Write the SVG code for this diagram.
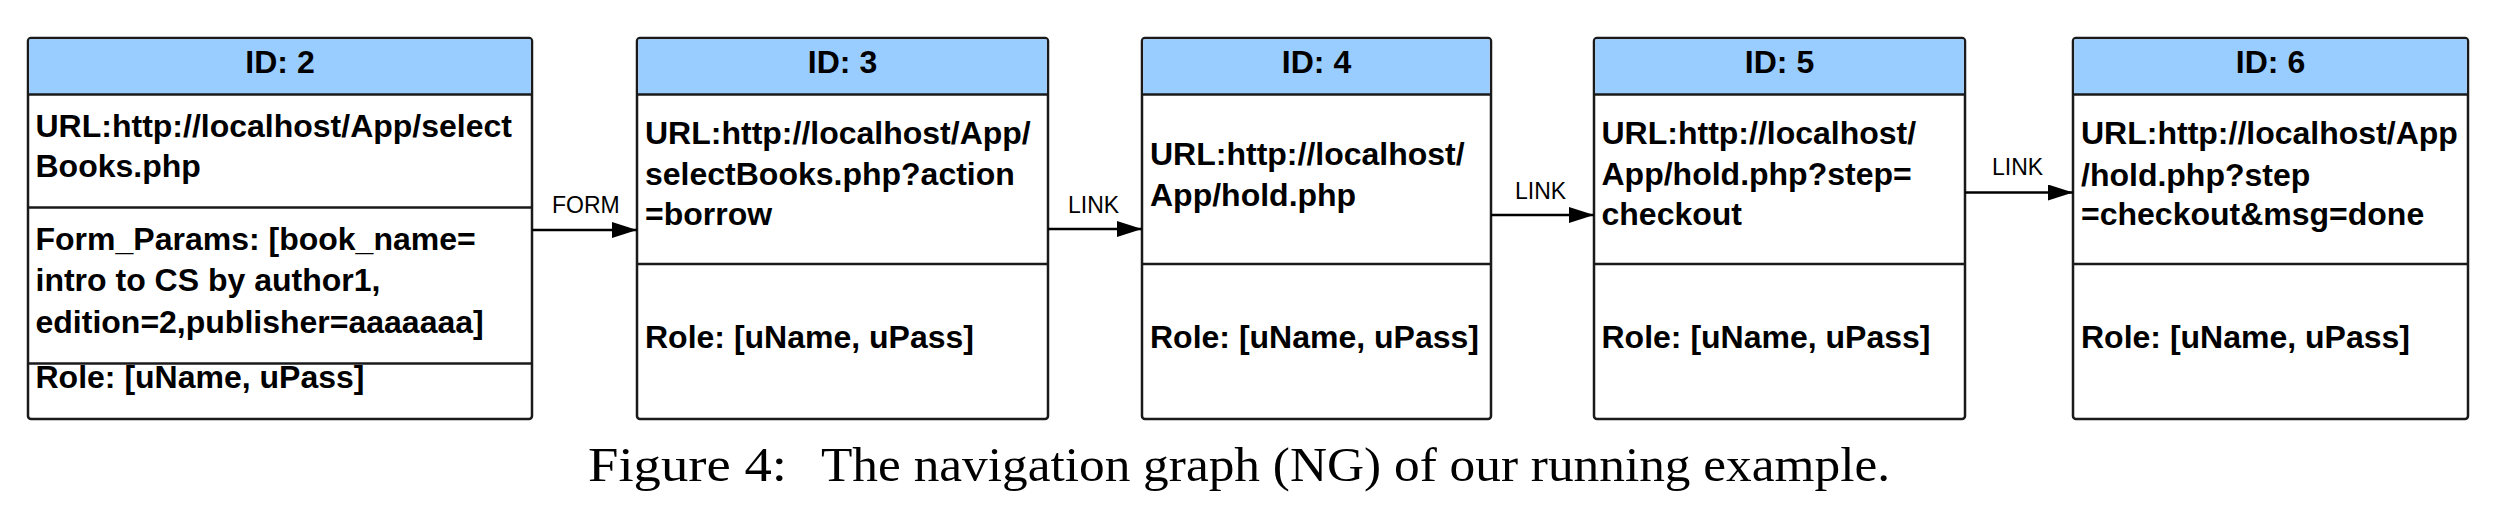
<svg xmlns="http://www.w3.org/2000/svg" width="2500" height="510" viewBox="0 0 2500 510">
<style>
.box{fill:#ffffff;stroke:#1a1a1a;stroke-width:2.5}
.hdr{fill:#99ccff;stroke:none}
.div{stroke:#1a1a1a;stroke-width:2.5}
.t{font-family:"Liberation Sans",Arial,sans-serif;font-weight:bold;font-size:32px;fill:#000}
.h{font-family:"Liberation Sans",Arial,sans-serif;font-weight:bold;font-size:32px;fill:#000;text-anchor:middle}
.lbl{font-family:"Liberation Sans",Arial,sans-serif;font-size:23px;fill:#000}
.edge{stroke:#000;stroke-width:2.5;fill:none}
.cap{font-family:"Liberation Serif","Times New Roman",serif;font-size:49px;fill:#000}
</style>
<defs>
<marker id="arr" markerUnits="userSpaceOnUse" markerWidth="26" markerHeight="18" refX="25" refY="8" orient="auto">
<path d="M0,0 L25,8 L0,16 Z" fill="#000"/>
</marker>
</defs>

<g id="node2">
<rect class="box" x="28" y="38" width="504" height="381" rx="3"/>
<rect class="hdr" x="29.25" y="39.25" width="501.5" height="55"/>
<line class="div" x1="28" y1="94.5" x2="532" y2="94.5"/>
<line class="div" x1="28" y1="207.5" x2="532" y2="207.5"/>
<line class="div" x1="28" y1="363.5" x2="532" y2="363.5"/>
<text class="h" x="280" y="73">ID: 2</text>
<text class="t" x="35.5" y="137">URL:http://localhost/App/select</text>
<text class="t" x="35.5" y="177">Books.php</text>
<text class="t" x="35.5" y="250">Form_Params: [book_name=</text>
<text class="t" x="35.5" y="291">intro to CS by author1,</text>
<text class="t" x="35.5" y="333">edition=2,publisher=aaaaaaa]</text>
<text class="t" x="35.5" y="388">Role: [uName, uPass]</text>
</g>

<g id="node3">
<rect class="box" x="637" y="38" width="411" height="381" rx="3"/>
<rect class="hdr" x="638.25" y="39.25" width="408.5" height="55"/>
<line class="div" x1="637" y1="94.5" x2="1048" y2="94.5"/>
<line class="div" x1="637" y1="264" x2="1048" y2="264"/>
<text class="h" x="842.5" y="73">ID: 3</text>
<text class="t" x="645" y="143.5">URL:http://localhost/App/</text>
<text class="t" x="645" y="185">selectBooks.php?action</text>
<text class="t" x="645" y="225">=borrow</text>
<text class="t" x="645" y="348">Role: [uName, uPass]</text>
</g>

<g id="node4">
<rect class="box" x="1142" y="38" width="349" height="381" rx="3"/>
<rect class="hdr" x="1143.25" y="39.25" width="346.5" height="55"/>
<line class="div" x1="1142" y1="94.5" x2="1491" y2="94.5"/>
<line class="div" x1="1142" y1="264" x2="1491" y2="264"/>
<text class="h" x="1316.5" y="73">ID: 4</text>
<text class="t" x="1150" y="165">URL:http://localhost/</text>
<text class="t" x="1150" y="205.5">App/hold.php</text>
<text class="t" x="1150" y="348">Role: [uName, uPass]</text>
</g>

<g id="node5">
<rect class="box" x="1594" y="38" width="371" height="381" rx="3"/>
<rect class="hdr" x="1595.25" y="39.25" width="368.5" height="55"/>
<line class="div" x1="1594" y1="94.5" x2="1965" y2="94.5"/>
<line class="div" x1="1594" y1="264" x2="1965" y2="264"/>
<text class="h" x="1779.5" y="73">ID: 5</text>
<text class="t" x="1601.5" y="143.5">URL:http://localhost/</text>
<text class="t" x="1601.5" y="185">App/hold.php?step=</text>
<text class="t" x="1601.5" y="225">checkout</text>
<text class="t" x="1601.5" y="348">Role: [uName, uPass]</text>
</g>

<g id="node6">
<rect class="box" x="2073" y="38" width="395" height="381" rx="3"/>
<rect class="hdr" x="2074.25" y="39.25" width="392.5" height="55"/>
<line class="div" x1="2073" y1="94.5" x2="2468" y2="94.5"/>
<line class="div" x1="2073" y1="264" x2="2468" y2="264"/>
<text class="h" x="2270.5" y="73">ID: 6</text>
<text class="t" x="2081" y="144">URL:http://localhost/App</text>
<text class="t" x="2081" y="185.5">/hold.php?step</text>
<text class="t" x="2081" y="225">=checkout&amp;msg=done</text>
<text class="t" x="2081" y="348">Role: [uName, uPass]</text>
</g>

<g id="connectors">
<line class="edge" x1="532" y1="230" x2="637" y2="230" marker-end="url(#arr)"/>
<text class="lbl" x="552" y="213">FORM</text>
<line class="edge" x1="1048" y1="229" x2="1142" y2="229" marker-end="url(#arr)"/>
<text class="lbl" x="1068" y="212.5">LINK</text>
<line class="edge" x1="1491" y1="215" x2="1594" y2="215" marker-end="url(#arr)"/>
<text class="lbl" x="1515" y="198.5">LINK</text>
<line class="edge" x1="1965" y1="192.5" x2="2073" y2="192.5" marker-end="url(#arr)"/>
<text class="lbl" x="1992" y="175">LINK</text>
</g>

<g id="caption">
<text class="cap" x="588" y="481" textLength="199" lengthAdjust="spacingAndGlyphs">Figure 4:</text>
<text class="cap" x="821" y="481" textLength="1069" lengthAdjust="spacingAndGlyphs">The navigation graph (NG) of our running example.</text>
</g>
</svg>
